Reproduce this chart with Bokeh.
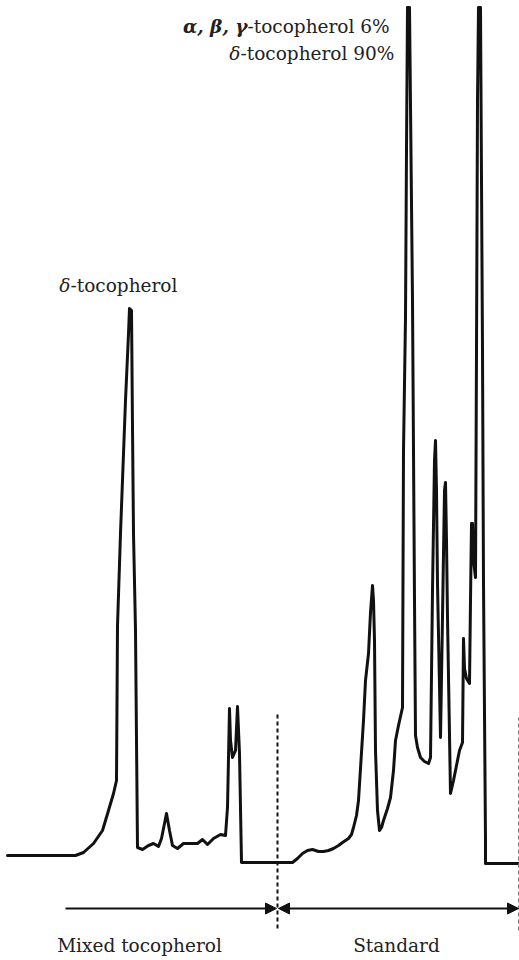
from bokeh.plotting import figure
from bokeh.models import Range1d, Arrow, NormalHead
from bokeh.core.properties import value
from bokeh.embed import file_html
from bokeh.resources import INLINE

# Chromatogram of mixed tocopherol sample (left) and standard (right)
mixed_time = [7, 75, 83, 93, 102, 108, 113, 116, 117, 120,
              125, 128, 129, 131, 132, 133, 135, 137, 142, 148,
              153, 158, 161, 166, 169, 172, 177, 183, 190, 197,
              202, 207, 213, 220, 225, 227, 229, 230, 232, 235,
              237, 239, 241, 277]
mixed_response = [105, 105, 108, 117, 130, 150, 167, 180, 335, 427,
                  560, 627, 652, 650, 533, 427, 330, 113, 111, 115,
                  117, 114, 122, 147, 130, 115, 112, 117, 117, 117,
                  121, 116, 122, 126, 125, 153, 252, 220, 203, 210,
                  254, 207, 98, 98]

standard_time = [277, 292, 297, 302, 307, 312, 318, 323, 328, 333,
                 338, 342, 348, 351, 353, 356, 358, 363, 365, 368,
                 370, 372, 373, 374, 375, 377, 379, 381, 383, 387,
                 390, 393, 395, 398, 402, 403, 405, 406, 407, 409,
                 412, 414, 415, 417, 420, 424, 428, 430, 432, 434,
                 435, 436, 437, 440, 442, 444, 445, 446, 447, 450,
                 453, 456, 459, 462, 463, 464, 466, 469, 470, 471,
                 472, 473, 475, 476, 477, 478, 480, 482, 483, 485,
                 485, 519]
standard_response = [98, 98, 102, 107, 110, 111, 109, 109, 110, 112,
                     115, 118, 122, 126, 133, 145, 160, 240, 280, 307,
                     348, 375, 360, 320, 210, 150, 130, 133, 140, 152,
                     163, 190, 220, 235, 253, 510, 643, 810, 953, 953,
                     660, 360, 225, 213, 203, 199, 197, 203, 370, 500,
                     520, 470, 377, 223, 343, 470, 478, 420, 343, 167,
                     180, 195, 210, 218, 322, 292, 282, 277, 360, 437,
                     437, 400, 383, 610, 860, 953, 953, 610, 377, 120,
                     97, 97]

# Segment dividers and spans
divider_time = [277, 518]
divider_top = [248, 243]
divider_bottom = [32, 30]
span_level = 52
mixed_span = [65, 276]
standard_span = [278, 518]

FONT = value("DejaVu Serif")
FS = "18.5px"
INK = "#111111"
TXT = "#222222"

p = figure(width=519, height=960, x_range=Range1d(0, 519), y_range=Range1d(0, 960),
           output_backend="svg", toolbar_location=None, min_border=0,
           x_axis_location=None, y_axis_location=None, outline_line_color=None)
p.grid.visible = False

p.line(mixed_time, mixed_response, line_color=INK, line_width=3, line_join="round", line_cap="round")
p.line(standard_time, standard_response, line_color=INK, line_width=3, line_join="round", line_cap="round")

# dividers
p.segment(x0=[divider_time[0]], y0=[divider_bottom[0]], x1=[divider_time[0]], y1=[divider_top[0]],
          line_color=INK, line_width=2, line_dash="4 3")
p.segment(x0=[divider_time[1]], y0=[divider_bottom[1]], x1=[divider_time[1]], y1=[divider_top[1]],
          line_color="#777777", line_width=1, line_dash="4 3")

# span arrows
p.add_layout(Arrow(x_start=mixed_span[0], y_start=span_level, x_end=mixed_span[1], y_end=span_level,
                   line_color=INK, line_width=2,
                   end=NormalHead(size=11, fill_color=INK, line_color=INK)))
p.add_layout(Arrow(x_start=standard_span[0], y_start=span_level, x_end=standard_span[1], y_end=span_level,
                   line_color=INK, line_width=2,
                   start=NormalHead(size=11, fill_color=INK, line_color=INK),
                   end=NormalHead(size=11, fill_color=INK, line_color=INK)))

# labels
p.text(x=[139], y=[15], text=["Mixed tocopherol"], text_font=FONT, text_font_size=FS,
       text_align="center", text_baseline="alphabetic", text_color=TXT)
p.text(x=[396], y=[15], text=["Standard"], text_font=FONT, text_font_size=FS,
       text_align="center", text_baseline="alphabetic", text_color=TXT)
p.text(x=[70], y=[675], text=["δ"], text_font=FONT, text_font_size=FS,
       text_font_style="italic",
       text_align="right", text_baseline="alphabetic", text_color=TXT)
p.text(x=[70], y=[675], text=["-tocopherol"], text_font=FONT, text_font_size=FS,
       text_align="left", text_baseline="alphabetic", text_color=TXT)

p.text(x=[247], y=[934], text=["α, β, γ"], text_font=FONT, text_font_size=FS,
       text_font_style="bold italic",
       text_align="right", text_baseline="alphabetic", text_color=TXT)
p.text(x=[247], y=[934], text=["-tocopherol 6%"], text_font=FONT, text_font_size=FS,
       text_align="left", text_baseline="alphabetic", text_color=TXT)
p.text(x=[240], y=[907], text=["δ"], text_font=FONT, text_font_size=FS,
       text_font_style="italic",
       text_align="right", text_baseline="alphabetic", text_color=TXT)
p.text(x=[240], y=[907], text=["-tocopherol 90%"], text_font=FONT, text_font_size=FS,
       text_align="left", text_baseline="alphabetic", text_color=TXT)

open("out.html", "w").write(file_html(p, INLINE))
